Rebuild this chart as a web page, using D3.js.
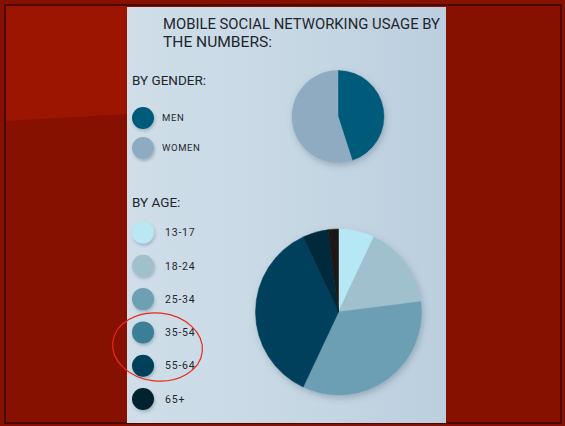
<!DOCTYPE html>
<html>
<head>
<meta charset="utf-8">
<script src="https://cdn.jsdelivr.net/npm/d3@7"></script>
<style>
  html, body { margin: 0; padding: 0; background: #ffffff; }
  svg { display: block; }
  text { font-family: Roboto, "DejaVu Sans", sans-serif; }
</style>
</head>
<body>
<svg id="chart" width="565" height="426"></svg>
<script>
// ---- data ----
const titleLines = ["MOBILE SOCIAL NETWORKING USAGE BY", "THE NUMBERS:"];
const titleWidths = [277, 109];

const genderLabels = ["MEN", "WOMEN"];
const genderValues = [45, 55];
const genderColors = ["#015a79", "#8fabc1"];

const ageLabels = ["13-17", "18-24", "25-34", "35-54", "55-64", "65+"];
const ageValues = [7, 16, 34, 36, 5, 2];
const ageLegendColors = ["#b9e8f4", "#a0c0cb", "#6e9fb2", "#3b7f97", "#003f5a", "#03222f"];
const ageSliceColors = ["#b5e7f4", "#9fc0cc", "#6d9fb4", "#00405b", "#012a3b", "#1c1515"];

// ---- canvas ----
const svg = d3.select("#chart");
const W = 565, H = 426;
const defs = svg.append("defs");

const panelGrad = defs.append("linearGradient")
  .attr("id", "panelGrad").attr("x1", "0").attr("y1", "0").attr("x2", "1").attr("y2", "0");
panelGrad.append("stop").attr("offset", "0").attr("stop-color", "#cfdee9");
panelGrad.append("stop").attr("offset", "0.45").attr("stop-color", "#c8d9e5");
panelGrad.append("stop").attr("offset", "1").attr("stop-color", "#bccfdf");

const shadow = defs.append("filter").attr("id", "shadow")
  .attr("x", "-30%").attr("y", "-30%").attr("width", "160%").attr("height", "160%");
shadow.append("feDropShadow").attr("dx", 1.5).attr("dy", 3)
  .attr("stdDeviation", 3).attr("flood-color", "#3a5060").attr("flood-opacity", 0.3);

const dotShadow = defs.append("filter").attr("id", "dotShadow")
  .attr("x", "-50%").attr("y", "-50%").attr("width", "200%").attr("height", "200%");
dotShadow.append("feDropShadow").attr("dx", 1).attr("dy", 2)
  .attr("stdDeviation", 1.8).attr("flood-color", "#3a5060").attr("flood-opacity", 0.3);

// red backdrop with the slanted lighter band in the upper left
svg.append("rect").attr("x", 0).attr("y", 0).attr("width", W).attr("height", H).attr("fill", "#871100");
svg.append("path")
  .attr("d", "M6,6 L127,6 L127,114 L6,121 Z")
  .attr("fill", "#9c1500");
// dark outer frame
svg.append("rect").attr("x", 5).attr("y", 5).attr("width", W - 9).attr("height", H - 8)
  .attr("fill", "none").attr("stroke", "#3a0603").attr("stroke-width", 1.5);

// light panel
svg.append("rect").attr("x", 127).attr("y", 7).attr("width", 319).attr("height", 416)
  .attr("fill", "url(#panelGrad)");

// ---- title ----
titleLines.forEach((t, i) => {
  svg.append("text").attr("x", 163).attr("y", 28.5 + i * 18.5)
    .attr("fill", "#1f262c").attr("font-size", 15)
    .attr("textLength", titleWidths[i]).attr("lengthAdjust", "spacingAndGlyphs")
    .text(t);
});

// ---- section headings ----
svg.append("text").attr("x", 132).attr("y", 85).attr("fill", "#1f262c")
  .attr("font-size", 13.5).text("BY GENDER:");
svg.append("text").attr("x", 132).attr("y", 207).attr("fill", "#1f262c")
  .attr("font-size", 13.5).text("BY AGE:");

// ---- legends ----
const genderY = d3.scalePoint().domain(genderLabels).range([118, 148]);
const gLeg = svg.append("g").selectAll("g").data(genderLabels).join("g")
  .attr("transform", d => `translate(0,${genderY(d)})`);
gLeg.append("circle").attr("cx", 143).attr("cy", 0).attr("r", 11)
  .attr("fill", (d, i) => genderColors[i]).attr("filter", "url(#dotShadow)");
gLeg.append("text").attr("x", 162).attr("y", 0).attr("dy", "0.36em")
  .attr("font-size", 9.5).attr("letter-spacing", 0.6).attr("fill", "#1f262c").text(d => d);

const ageY = d3.scalePoint().domain(ageLabels).range([232.5, 399]);
const aLeg = svg.append("g").selectAll("g").data(ageLabels).join("g")
  .attr("transform", d => `translate(0,${ageY(d)})`);
aLeg.append("circle").attr("cx", 143).attr("cy", 0).attr("r", 11)
  .attr("fill", (d, i) => ageLegendColors[i]).attr("filter", "url(#dotShadow)");
aLeg.append("text").attr("x", 165).attr("y", 0).attr("dy", "0.36em")
  .attr("font-size", 10.5).attr("letter-spacing", 0.8).attr("fill", "#1f262c").text(d => d);

// ---- pies ----
const pie = d3.pie().sort(null).value(d => d);

function drawPie(values, colors, cx, cy, r) {
  const arc = d3.arc().innerRadius(0).outerRadius(r);
  const g = svg.append("g").attr("transform", `translate(${cx},${cy})`)
    .attr("filter", "url(#shadow)");
  g.selectAll("path").data(pie(values)).join("path")
    .attr("d", arc)
    .attr("fill", (d, i) => colors[i])
    .attr("stroke", (d, i) => colors[i]).attr("stroke-width", 0.5);
}

drawPie(genderValues, genderColors, 338, 116.5, 46);
drawPie(ageValues, ageSliceColors, 338.5, 312, 83);

// ---- annotation ring around the 35-54 / 55-64 entries ----
svg.append("ellipse")
  .attr("cx", 157.5).attr("cy", 347).attr("rx", 45).attr("ry", 34)
  .attr("transform", "rotate(6,157.5,347)")
  .attr("fill", "none").attr("stroke", "#ea2a18").attr("stroke-width", 1.2);
</script>
</body>
</html>
